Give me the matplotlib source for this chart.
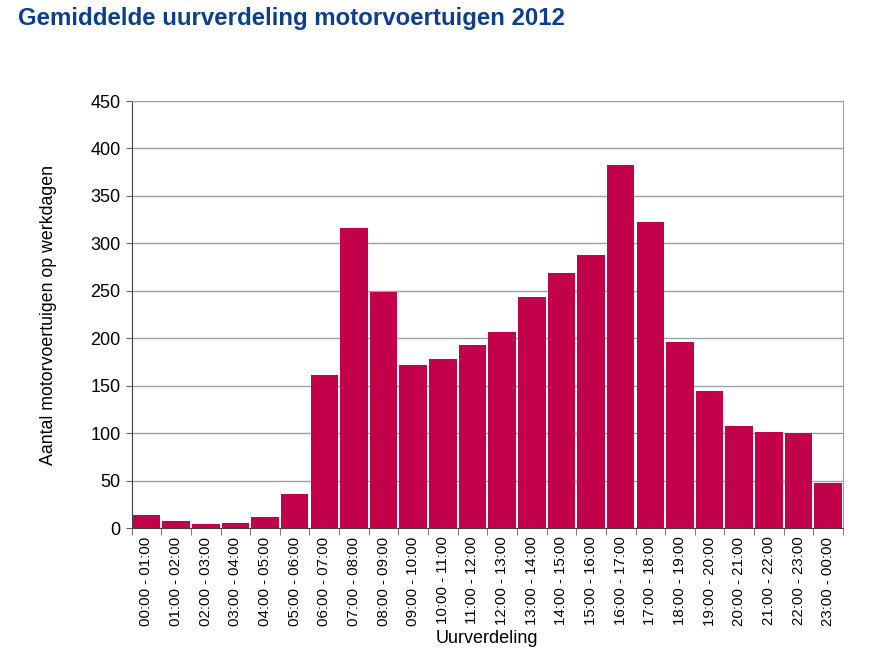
import numpy as np
import matplotlib
matplotlib.use("Agg")
from matplotlib import pyplot as plt

plt.rcParams['font.family'] = ['Liberation Sans', 'DejaVu Sans']

# Data.
hours = [f"{h:02d}:00 - {(h + 1) % 24:02d}:00" for h in range(24)]
counts = [14, 8, 5, 6, 12, 36, 161, 316, 249, 172, 178, 193,
          207, 244, 269, 288, 383, 323, 196, 145, 108, 101, 100, 48]
y_ticks = list(range(0, 451, 50))

bar_color = "#c3004a"
title_color = "#0b3f8c"

fig = plt.figure(figsize=(8.76, 6.56), dpi=100)
ax = fig.add_axes([0.1503, 0.1947, 0.8120, 0.6513])

x = np.arange(len(hours))
ax.bar(x, counts, width=0.93, color=bar_color, zorder=3)

ax.set_xlim(-0.5, len(hours) - 0.5)
ax.set_ylim(0, 450)
ax.set_yticks(y_ticks)
ax.set_yticklabels([str(v) for v in y_ticks], fontsize=13)
ax.yaxis.grid(True, color="#a0a0a0", linewidth=1, zorder=0)

# category labels centred, ticks at the boundaries
ax.set_xticks(x)
ax.set_xticklabels(hours, rotation=90, fontsize=10.8)
ax.tick_params(axis='x', length=0, pad=6)
ax.set_xticks(np.arange(-0.5, len(hours) + 0.5, 1), minor=True)
ax.tick_params(axis='x', which='minor', length=5, color="#606060")
ax.tick_params(axis='y', length=4, color="#606060", pad=4)

for side in ['top', 'right']:
    ax.spines[side].set_color("#a0a0a0")
for side in ['left', 'bottom']:
    ax.spines[side].set_color("#404040")

ax.set_ylabel("Aantal motorvoertuigen op werkdagen", fontsize=12.8, labelpad=24)
ax.set_xlabel("Uurverdeling", fontsize=13, labelpad=3)

fig.text(0.021, 0.972, "Gemiddelde uurverdeling motorvoertuigen 2012",
         fontsize=17.3, fontweight='bold', color=title_color, va='center', ha='left')

fig.savefig("out.png", dpi=100)
